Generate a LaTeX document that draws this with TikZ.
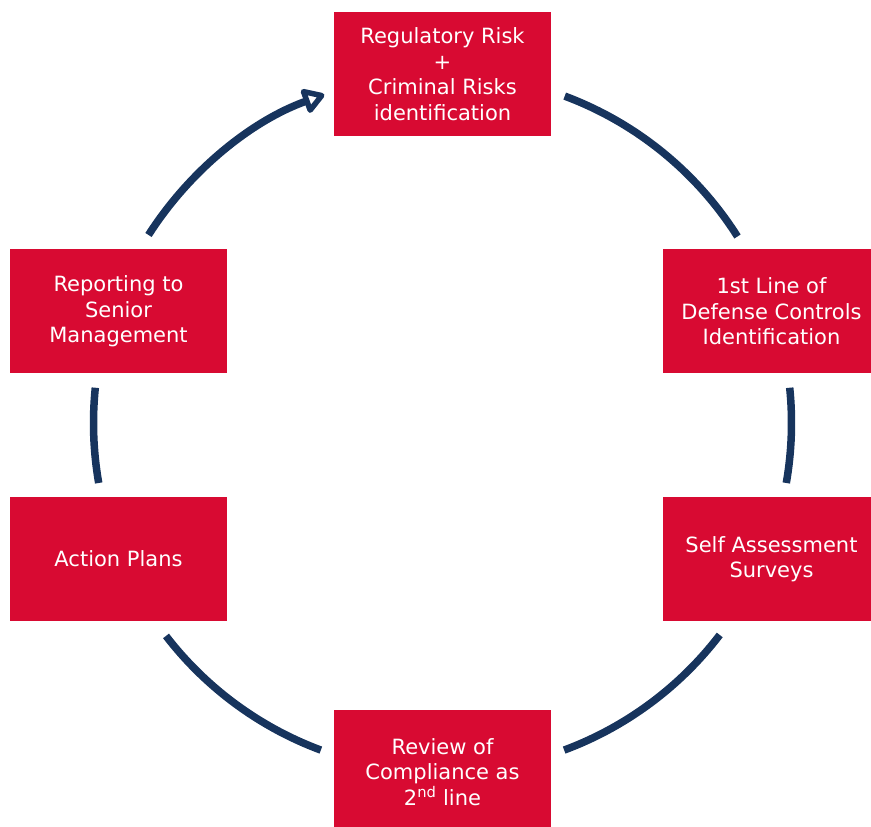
\documentclass[tikz,border=0pt]{standalone}
\usepackage{fontspec}
\setmainfont{DejaVu Sans}
\usetikzlibrary{positioning, arrows.meta}
\definecolor{boxred}{HTML}{D80A32}
\definecolor{navy}{HTML}{17345D}

\begin{document}
\begin{tikzpicture}[
  x=1pt, y=1pt,
  every node/.style={font=\fontsize{21}{25.5}\selectfont},
  stage/.style={
    fill=boxred, text=white, inner sep=0pt,
    minimum width=217pt, minimum height=124pt, align=center
  },
  cycle/.style={navy, line width=7.5pt},
  lead/.style={cycle, -{Triangle[open, length=24pt, width=28pt, line width=5.5pt, round]}}
]
  \useasboundingbox (0,0) rectangle (871,827);
  \clip (0,0) rectangle (871,827);

  \coordinate (hub) at (442.5,404);

  \node[stage] (regid) at (442.5,753) {Regulatory Risk\\+\\Criminal Risks\\identification};
  \node[stage] (firstline) at (771.5,515.5) {1st Line of\\Defense Controls\\Identification};
  \node[stage] (selfassess) at (771.5,268) {Self Assessment\\Surveys};
  \node[stage] (review) at (442.5,55) {Review of\\Compliance as\\2\textsuperscript{nd} line};
  \node[stage] (actions) at (118.5,268) {Action Plans};
  \node[stage] (reporting) at (118.5,515.5) {Reporting to\\Senior\\Management};

  % clockwise ring between the stages
  \draw[cycle] (hub) ++(69.5:349) arc[start angle=69.5, end angle=32.3, radius=349];
  \draw[cycle] (hub) ++(5.8:349) arc[start angle=5.8, end angle=-9.9, radius=349];
  \draw[cycle] (hub) ++(-37.4:349) arc[start angle=-37.4, end angle=-69.6, radius=349];
  \draw[cycle] (hub) ++(-110.4:349) arc[start angle=-110.4, end angle=-142.4, radius=349];
  \draw[cycle] (hub) ++(189.9:349) arc[start angle=189.9, end angle=174.2, radius=349];
  \draw[lead] (hub) ++(147.4:349) arc[start angle=147.4, end angle=109.8, radius=349];
\end{tikzpicture}
\end{document}
